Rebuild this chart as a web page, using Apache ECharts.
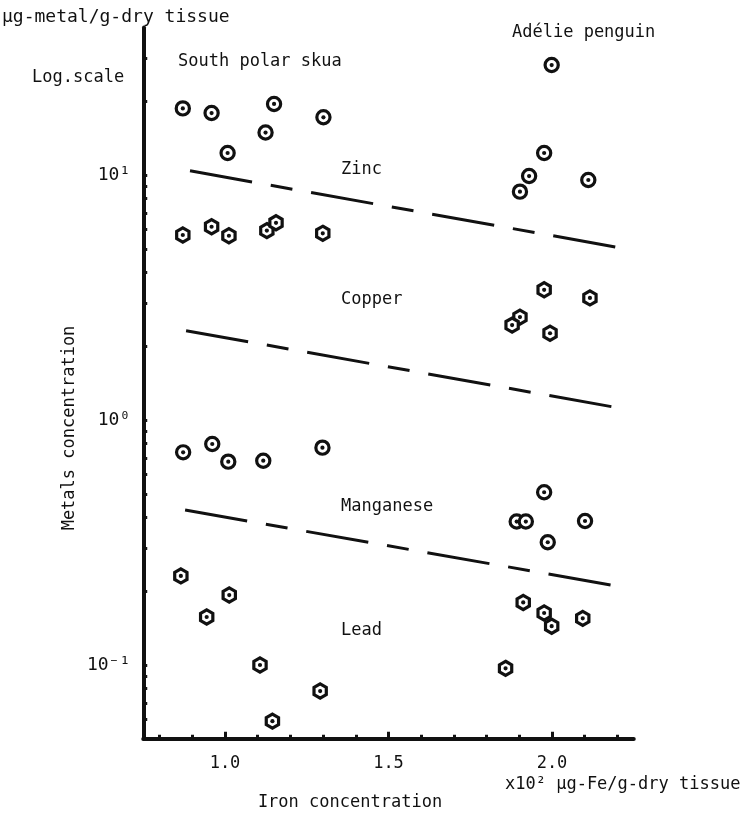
<!DOCTYPE html>
<html>
<head>
<meta charset="utf-8">
<script src="https://cdn.jsdelivr.net/npm/echarts@6/dist/echarts.min.js"></script>
<style>
html,body{margin:0;padding:0;background:#fff;}
#chart{width:747px;height:817px;}
</style>
</head>
<body>
<div id="chart"></div>
<script>
// ---- data (x: x10^2 µg-Fe/g-dry tissue, y: µg-metal/g-dry tissue) ----
const zincSkua = [[0.871,18.7],[0.959,17.9],[1.150,19.5],[1.124,14.9],[1.008,12.3],[1.301,17.2]];
const zincPenguin = [[1.999,28.1],[1.976,12.3],[1.930,9.9],[1.902,8.55],[2.111,9.54]];
const copperSkua = [[0.871,5.69],[0.959,6.15],[1.012,5.65],[1.128,5.93],[1.156,6.38],[1.299,5.78]];
const copperPenguin = [[1.976,3.40],[2.116,3.15],[1.902,2.63],[1.878,2.44],[1.994,2.26]];
const manganeseSkua = [[0.872,0.738],[0.961,0.798],[1.010,0.676],[1.117,0.682],[1.298,0.771]];
const manganesePenguin = [[1.976,0.507],[1.892,0.385],[1.920,0.385],[2.101,0.387],[1.987,0.317]];
const leadSkua = [[0.865,0.231],[1.013,0.193],[0.944,0.157],[1.107,0.100],[1.291,0.0783],[1.145,0.059]];
const leadPenguin = [[1.912,0.180],[1.976,0.163],[1.999,0.144],[2.094,0.155],[1.858,0.0969]];

const zincLine = [[0.893,10.4],[2.199,5.07]];
const copperLine = [[0.881,2.315],[2.193,1.127]];
const manganeseLine = [[0.878,0.429],[2.190,0.211]];

const xTicks = [0.8,0.9,1.0,1.1,1.2,1.3,1.4,1.5,1.6,1.7,1.8,1.9,2.0,2.1,2.2];
const xMajorTicks = [1.0,1.5,2.0];
const xLabels = [1.0,1.5,2.0];
const yTicks = [0.05,0.06,0.07,0.08,0.09,0.1,0.2,0.3,0.4,0.5,0.6,0.7,0.8,0.9,1,2,3,4,5,6,7,8,9,10,20,30];
const yLabels = [0.1,1,10];
const yLabelText = {'0.1':'10\u207B\u00B9','1':'10\u2070','10':'10\u00B9'};

const FONT = 'DejaVu Sans Mono';
const INK = '#111';

function ringItem(params, api) {
  const p = api.coord([api.value(0), api.value(1)]);
  return {type:'group', children:[
    {type:'circle', shape:{cx:p[0], cy:p[1], r:6.6}, style:{fill:'#fff', stroke:INK, lineWidth:3.2}},
    {type:'circle', shape:{cx:p[0], cy:p[1], r:2.1}, style:{fill:INK}}
  ]};
}
function hexItem(params, api) {
  const p = api.coord([api.value(0), api.value(1)]);
  const R = 7.1, pts = [];
  for (let i = 0; i < 6; i++) {
    const a = -Math.PI/2 + i*Math.PI/3;
    pts.push([p[0] + R*Math.cos(a), p[1] + R*Math.sin(a)]);
  }
  return {type:'group', children:[
    {type:'polygon', shape:{points:pts}, style:{fill:'#fff', stroke:INK, lineWidth:3.2, lineJoin:'miter'}},
    {type:'circle', shape:{cx:p[0], cy:p[1], r:2.1}, style:{fill:INK}}
  ]};
}
function markerSeries(data, kind) {
  return {type:'custom', data:data, renderItem: kind === 'hex' ? hexItem : ringItem,
          encode:{x:0, y:1}, z:5, clip:false};
}
function regLine(data) {
  return {type:'line', data:data, symbol:'none', silent:true, z:3,
          lineStyle:{color:INK, width:3, type:[63,19,22,19], cap:'butt'}};
}

const txt = (text, x, y, extra) => Object.assign({type:'text', x:x, y:y,
  style:Object.assign({text:text, fontFamily:FONT, fontSize:17, fill:INK, verticalAlign:'middle'}, extra||{})});

const chart = echarts.init(document.getElementById('chart'));
chart.setOption({
  animation:false,
  backgroundColor:'#fff',
  grid:{left:143.25, right:113.25, top:27.5, bottom:78.25},
  xAxis:[{
    type:'value', min:0.75, max:2.25, position:'bottom',
    axisLine:{onZero:false, lineStyle:{color:INK, width:4}},
    axisTick:{customValues:xTicks, inside:true, length:4, lineStyle:{color:INK, width:3}},
    axisLabel:{customValues:xLabels, formatter:v=>Number(v).toFixed(1), fontFamily:FONT, fontSize:17, color:INK, margin:16},
    splitLine:{show:false}
  },{
    type:'value', min:0.75, max:2.25, position:'bottom',
    axisLine:{show:false},
    axisTick:{customValues:xMajorTicks, inside:true, length:7, lineStyle:{color:INK, width:3}},
    axisLabel:{show:false}, splitLine:{show:false}
  }],
  yAxis:{
    type:'log', logBase:10, min:0.05, max:40,
    axisLine:{onZero:false, lineStyle:{color:INK, width:4}},
    axisTick:{customValues:yTicks, inside:true, length:4, lineStyle:{color:INK, width:3}},
    axisLabel:{customValues:yLabels, formatter:v=>yLabelText[String(+Number(v).toPrecision(6))] || '', fontFamily:FONT, fontSize:18, color:INK, margin:13},
    splitLine:{show:false}, minorTick:{show:false}
  },
  series:[
    regLine(zincLine), regLine(copperLine), regLine(manganeseLine),
    markerSeries(zincSkua,'ring'), markerSeries(zincPenguin,'ring'),
    markerSeries(copperSkua,'hex'), markerSeries(copperPenguin,'hex'),
    markerSeries(manganeseSkua,'ring'), markerSeries(manganesePenguin,'ring'),
    markerSeries(leadSkua,'hex'), markerSeries(leadPenguin,'hex')
  ],
  graphic:[
    txt('\u00B5g-metal/g-dry tissue', 2, 17, {fontSize:18}),
    txt('Log.scale', 32, 78),
    txt('South polar skua', 178, 62),
    txt('Ad\u00E9lie penguin', 512, 33),
    txt('Zinc', 341, 170),
    txt('Copper', 341, 300),
    txt('Manganese', 341, 507),
    txt('Lead', 341, 631),
    txt('x10\u00B2 \u00B5g-Fe/g-dry tissue', 505, 785),
    txt('Iron concentration', 350, 803, {align:'center'}),
    txt('Metals concentration', 70, 428, {align:'center'})
  ]
});
// rotate the vertical axis title
const opt = chart.getOption();
opt.graphic[0].elements[10].rotation = Math.PI/2;
chart.setOption({graphic:opt.graphic});
</script>
</body>
</html>
